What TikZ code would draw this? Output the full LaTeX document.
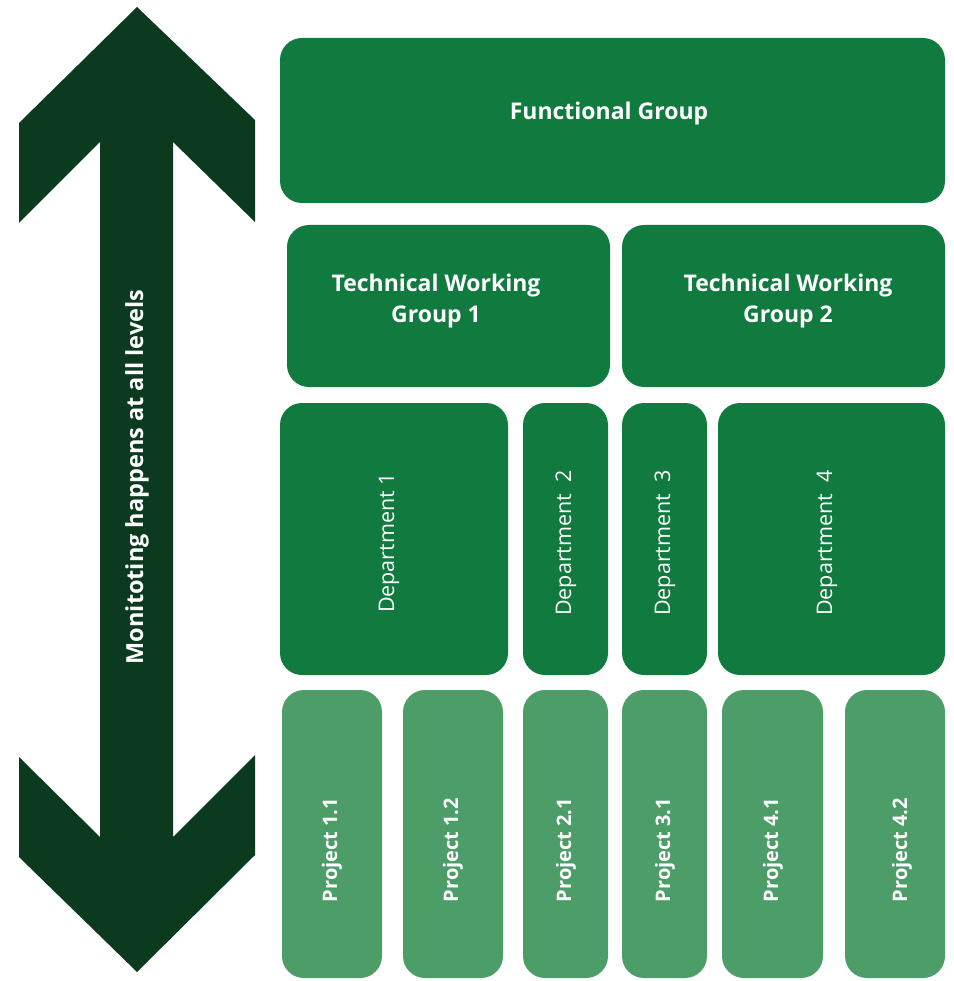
\documentclass[tikz,border=0pt]{standalone}
\usepackage{fontspec}
\setmainfont{Open Sans}
\definecolor{boxgreen}{RGB}{17,122,62}
\definecolor{projgreen}{RGB}{76,157,103}
\definecolor{arrowgreen}{RGB}{11,58,31}
\tikzset{
  box/.style={rectangle, rounded corners=22pt, fill=boxgreen, text=white, inner sep=0pt, align=center},
  projbox/.style={box, fill=projgreen, minimum height=288pt},
  deptbox/.style={box, minimum height=272pt},
  toptxt/.style={font=\bfseries\fontsize{23}{31}\selectfont},
  depttxt/.style={font=\fontsize{21.5}{24}\selectfont, rotate=90},
  projtxt/.style={font=\bfseries\fontsize{20}{22}\selectfont, rotate=90},
}
\begin{document}
\begin{tikzpicture}[x=1pt,y=-1pt]
\useasboundingbox (0,0) rectangle (953,981);
% double-headed arrow
\fill[arrowgreen] (137,7) -- (255,120) -- (255,222) -- (173,142) -- (173,837) -- (255,755) -- (255,855) -- (137,972) -- (19,857) -- (19,757) -- (100,837) -- (100,142) -- (19,223) -- (19,123) -- cycle;
\node[text=white, rotate=90, font=\bfseries\fontsize{23.5}{25}\selectfont] (arrowlbl) at (137,477) {Monitoting happens at all levels};
% top
\node[box, minimum width=665pt, minimum height=165pt] (fg) at (612.5,120.5) {};
\node[text=white, toptxt] (fgt) at (609,114) {Functional Group};
% technical working groups
\node[box, minimum width=323pt, minimum height=162pt] (twg1) at (448.5,306) {};
\node[text=white, toptxt, align=center] (twg1t) at (436,301) {Technical Working\\Group 1};
\node[box, minimum width=323pt, minimum height=162pt] (twg2) at (783.5,306) {};
\node[text=white, toptxt, align=center] (twg2t) at (788,301) {Technical Working\\Group 2};
% departments
\node[deptbox, minimum width=228pt] (d1) at (394,539) {};
\node[text=white, depttxt] (d1t) at (389,543) {Department 1};
\node[deptbox, minimum width=85pt] (d2) at (565.5,539) {};
\node[text=white, depttxt] (d2t) at (566,543) {Department\ \ 2};
\node[deptbox, minimum width=85pt] (d3) at (664.5,539) {};
\node[text=white, depttxt] (d3t) at (665,543) {Department\ \ 3};
\node[deptbox, minimum width=227pt] (d4) at (831.5,539) {};
\node[text=white, depttxt] (d4t) at (827,543) {Department\ \ 4};
% projects
\node[projbox, minimum width=100pt] (p11) at (332,834) {};
\node[text=white, projtxt] (p11t) at (332,850) {Project 1.1};
\node[projbox, minimum width=100pt] (p12) at (453,834) {};
\node[text=white, projtxt] (p12t) at (453,850) {Project 1.2};
\node[projbox, minimum width=85pt] (p21) at (565.5,834) {};
\node[text=white, projtxt] (p21t) at (566,850) {Project 2.1};
\node[projbox, minimum width=85pt] (p31) at (664.5,834) {};
\node[text=white, projtxt] (p31t) at (665,850) {Project 3.1};
\node[projbox, minimum width=101pt] (p41) at (772.5,834) {};
\node[text=white, projtxt] (p41t) at (773,850) {Project 4.1};
\node[projbox, minimum width=100pt] (p42) at (895,834) {};
\node[text=white, projtxt] (p42t) at (902,850) {Project 4.2};
\end{tikzpicture}
\end{document}
